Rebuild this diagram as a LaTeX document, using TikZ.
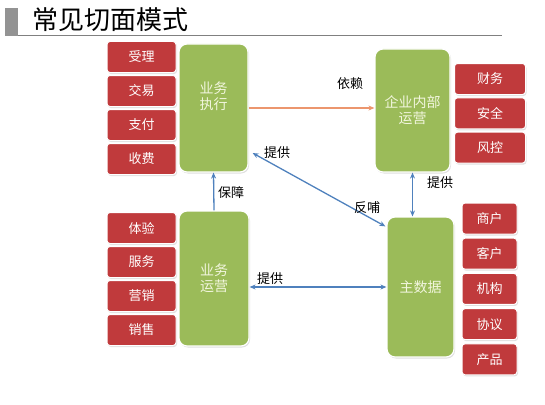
\documentclass[tikz,border=0pt]{standalone}
\usepackage{fontspec}
\setmainfont{Noto Sans CJK SC}
\usetikzlibrary{arrows.meta,positioning,shadows}

\definecolor{boxred}{RGB}{192,58,60}
\definecolor{boxgreen}{RGB}{155,187,89}
\definecolor{linkblue}{RGB}{79,129,189}
\definecolor{deporange}{RGB}{236,150,110}
\definecolor{paletext}{RGB}{242,246,222}

\begin{document}
\begin{tikzpicture}[x=1pt, y=-1pt,
    item/.style={rectangle, rounded corners=3pt, draw=white, line width=1pt,
                 fill=boxred, text=white, font=\fontsize{13}{13}\selectfont,
                 minimum height=31pt, inner sep=0pt,
                 drop shadow={shadow xshift=1pt, shadow yshift=-1.5pt, opacity=0.25}},
    area/.style={rectangle, rounded corners=8pt, draw=white, line width=1.2pt,
                 fill=boxgreen, text=paletext, font=\fontsize{14}{16}\selectfont,
                 align=center, inner sep=0pt,
                 drop shadow={shadow xshift=1pt, shadow yshift=-1.5pt, opacity=0.25}},
    link/.style={{Stealth[length=6pt,width=5pt]}-{Stealth[length=6pt,width=5pt]},
                 draw=linkblue, line width=1.3pt},
    oneway/.style={-{Stealth[length=6pt,width=5pt]}, draw=linkblue, line width=1.3pt},
    dep/.style={-{Stealth[length=6pt,width=5pt]}, draw=deporange, line width=1.5pt},
    lbl/.style={font=\fontsize{13}{13}\selectfont, inner sep=0pt}
  ]
  \useasboundingbox (0,0) rectangle (545,404);

  % title
  \fill[gray!85] (5,8) rectangle (18,36);
  \draw[gray, line width=1pt] (18,36) -- (502,36);
  \node[anchor=west, inner sep=0pt, font=\fontsize{26}{26}\selectfont] (title) at (32,20) {常见切面模式};

  % aspects
  \node[area, minimum width=69pt, minimum height=128pt] (exec) at (213.5,108) {业务\\执行\\[8pt]};
  \node[area, minimum width=70pt, minimum height=135pt] (ops) at (214,278.5) {业务\\运营};
  \node[area, minimum width=75pt, minimum height=123pt] (internal) at (412.5,110.5) {企业内部\\运营};
  \node[area, minimum width=67pt, minimum height=140pt] (data) at (420.5,287) {主数据};

  % details
  \foreach \t [count=\i from 0] in {受理,交易,支付,收费}
    \node[item, minimum width=69pt] (lt\i) at (141.5,57+34*\i) {\t};
  \foreach \t [count=\i from 0] in {体验,服务,营销,销售}
    \node[item, minimum width=69pt] (lb\i) at (141.5,228+34*\i) {\t};
  \foreach \t [count=\i from 0] in {财务,安全,风控}
    \node[item, minimum width=71pt] (rt\i) at (490,79+34.3*\i) {\t};
  \foreach \t [count=\i from 0] in {商户,客户,机构,协议,产品}
    \node[item, minimum width=55pt] (rb\i) at (489.5,218.5+35.2*\i) {\t};

  % relations
  \draw[dep] (exec.east) -- (exec.east -| internal.west);
  \draw[oneway] (ops.north) -- (exec.south);
  \draw[link] ([shift={(4,45)}]exec.east) -- ([shift={(-1,10)}]data.north west);
  \draw[link] (internal.south) -- (internal.south |- data.north);
  \draw[link] (data.west -| ops.east) -- (data.west);

  \node[lbl] (rely) at (350,84) {依赖};
  \node[lbl] (give1) at (277,153) {提供};
  \node[lbl] (guard) at (231,193) {保障};
  \node[lbl] (feed) at (367,208) {反哺};
  \node[lbl] (give2) at (440,183) {提供};
  \node[lbl] (give3) at (270,279) {提供};
\end{tikzpicture}
\end{document}
